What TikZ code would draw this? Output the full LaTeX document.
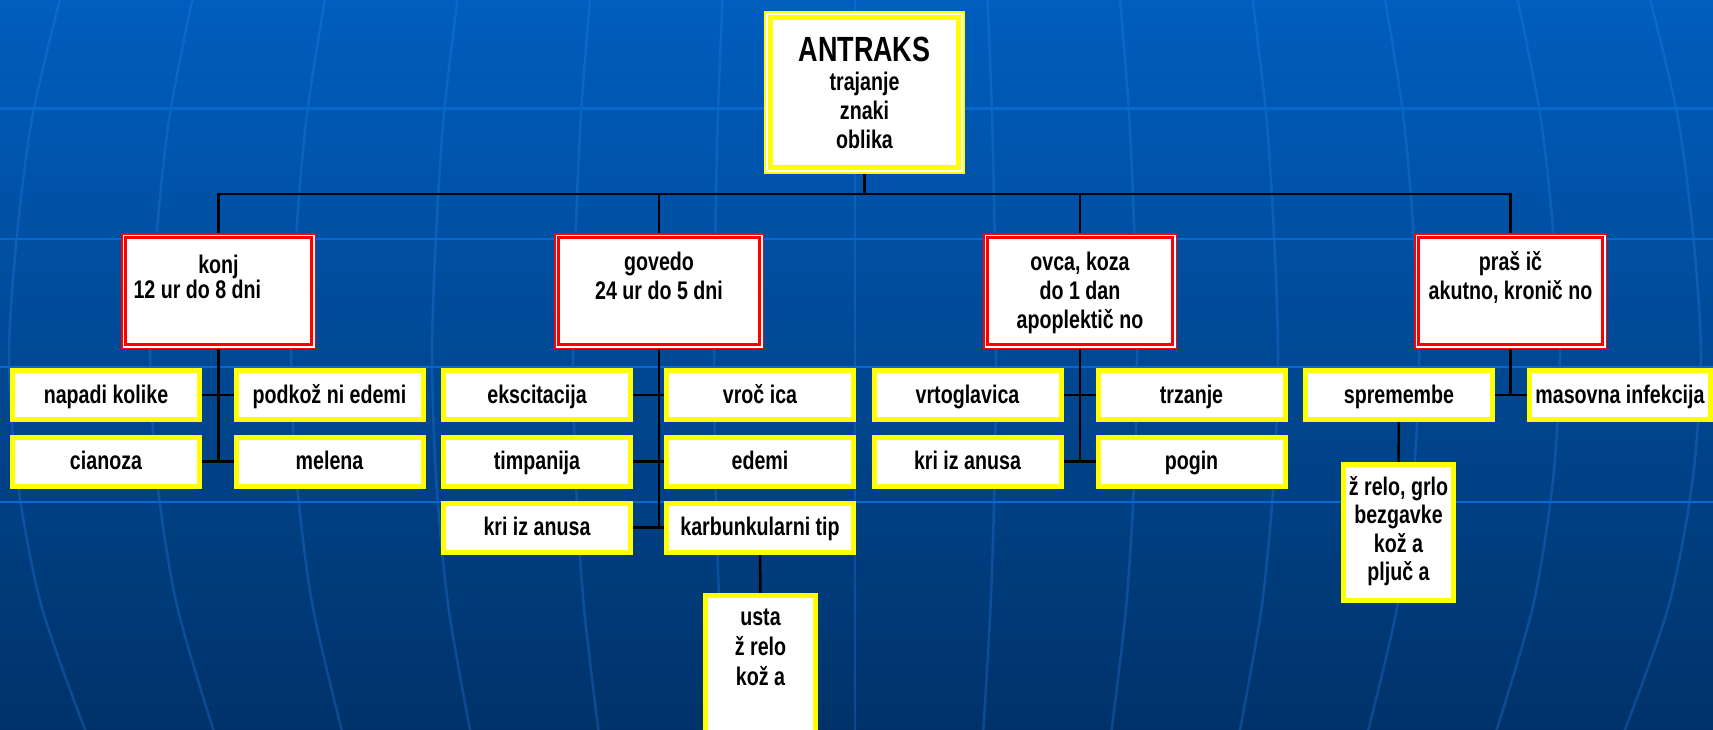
\documentclass[tikz,border=0pt]{standalone}
\usepackage{fontspec}
\setmainfont{Liberation Sans}[FakeStretch=0.77]
\definecolor{bgtop}{RGB}{0,94,190}
\definecolor{bgbot}{RGB}{0,50,105}
\definecolor{gridc}{RGB}{8,104,210}
\definecolor{meridc}{RGB}{40,130,235}
\definecolor{yel}{RGB}{255,255,0}
\definecolor{redc}{RGB}{255,0,0}
\pgfdeclarelayer{bglayer}
\pgfdeclarelayer{linelayer}
\pgfsetlayers{bglayer,linelayer,main}
\tikzset{
  txt/.style={font=\fontsize{25.5}{29}\selectfont\bfseries, align=center, text=black, inner sep=0pt, outer sep=0pt, fill=white},
  topbox/.style={txt, draw=yel, line width=2pt, minimum width=199pt, text height=137pt, text depth=24pt},
  animal/.style={txt, draw=redc, line width=1.5pt, text height=65.25pt, text depth=49.25pt},
  sign/.style={txt, draw=yel, line width=5pt, minimum width=187pt, text height=32.5pt, text depth=16.5pt},
  tallsign/.style={txt, draw=yel, line width=5pt, minimum width=110pt},
  conn/.style={draw=black, line width=2.5pt},
  redin/.style={draw=redc, line width=3.3pt},
  yelin/.style={draw=yel, line width=5pt},
  gridline/.style={draw=gridc, line width=2.5pt},
  meridian/.style={draw=meridc, line width=2.5pt, opacity=0.3},
}
\begin{document}
\begin{tikzpicture}[x=1pt,y=-1pt]
\useasboundingbox (0,0) rectangle (1713,730);
\begin{pgfonlayer}{bglayer}
  \shade[top color=bgtop, bottom color=bgbot] (0,0) rectangle (1713,730);
  \foreach \xe in {9,150,291,432,573,714,855,996,1137,1278,1419,1560,1701}
    \draw[meridian] plot[smooth] coordinates {
      ({855+(\xe-855)*0.94},0) ({855+(\xe-855)*0.972},115) ({855+(\xe-855)*0.99},230)
      ({855+(\xe-855)*1.0},355) ({855+(\xe-855)*0.99},480) ({855+(\xe-855)*0.962},605)
      ({855+(\xe-855)*0.91},730)};
  \foreach \yy in {108.5,239,367,502}
    \draw[gridline] (0,\yy) -- (1713,\yy);
\end{pgfonlayer}

% top
\node[topbox] (top) at (864.5,92.5) {{\fontsize{35}{29}\selectfont ANTRAKS}\\trajanje\\znaki\\oblika};
\draw[yelin] ([shift={(5.5,5.5)}]top.north west) rectangle ([shift={(-5.5,-5.5)}]top.south east);

% level 2
\node[animal, minimum width=193.5pt, text height=64.25pt, text depth=50.25pt] (konj) at (218.5,291) {konj\\[-4.5pt]\makebox[170pt][l]{12 ur do 8 dni}};
\node[animal, minimum width=208.5pt] (govedo) at (659,291) {govedo\\24 ur do 5 dni};
\node[animal, minimum width=192.5pt, text height=94.25pt, text depth=20.25pt] (ovca) at (1080,291) {ovca, koza\\do 1 dan\\apoplektič no};
\node[animal, minimum width=191.5pt] (prasic) at (1510.5,291) {praš ič\\akutno, kronič no};
\foreach \n in {konj,govedo,ovca,prasic}
  \draw[redin] ([shift={(3.6,3.6)}]\n.north west) rectangle ([shift={(-3.6,-3.6)}]\n.south east);

% level 3
\node[sign] (napadi) at (106,395) {napadi kolike};
\node[sign] (podkoz) at (329.5,395) {podkož ni edemi};
\node[sign] (cianoza) at (106,461.5) {cianoza};
\node[sign] (melena) at (329.5,461.5) {melena};
\node[sign] (eksc) at (537,395) {ekscitacija};
\node[sign] (vrocica) at (760,395) {vroč ica};
\node[sign] (timp) at (537,461.5) {timpanija};
\node[sign] (edemi) at (760,461.5) {edemi};
\node[sign] (krig) at (537,527.5) {kri iz anusa};
\node[sign] (karb) at (760,527.5) {karbunkularni tip};
\node[sign] (vrto) at (967.5,395) {vrtoglavica};
\node[sign] (trzanje) at (1191.5,395) {trzanje};
\node[sign] (krio) at (967.5,461.5) {kri iz anusa};
\node[sign] (pogin) at (1191.5,461.5) {pogin};
\node[sign] (sprem) at (1399,395) {spremembe};
\node[sign, minimum width=181pt] (masovna) at (1620,395) {masovna infekcija};

% level 4
\node[tallsign, anchor=north, text height=89.5pt, text depth=70pt, font=\fontsize{25.5}{30}\selectfont\bfseries] (usta) at (760.5,595.5) {usta\\ž relo\\kož a};
\node[tallsign, text height=116pt, text depth=20pt, font=\fontsize{25.5}{28.5}\selectfont\bfseries] (zrelo) at (1398.5,532.5) {ž relo, grlo\\bezgavke\\kož a\\pljuč a};

% connectors
\begin{pgfonlayer}{linelayer}
  \coordinate (bus) at (864.5,194);
  \draw[conn] (top.south) -- (top.south |- bus);
  \draw[conn] (konj.north) -- (konj.north |- bus) -- (prasic.north |- bus) -- (prasic.north);
  \draw[conn] (govedo.north) -- (govedo.north |- bus);
  \draw[conn] (ovca.north) -- (ovca.north |- bus);
  \draw[conn] (konj.south) -- (konj.south |- cianoza.east);
  \draw[conn] (napadi.east) -- (podkoz.west);
  \draw[conn] (cianoza.east) -- (melena.west);
  \draw[conn] (govedo.south) -- (govedo.south |- krig.east);
  \draw[conn] (eksc.east) -- (vrocica.west);
  \draw[conn] (timp.east) -- (edemi.west);
  \draw[conn] (krig.east) -- (karb.west);
  \draw[conn] (karb.south) -- (usta.north);
  \draw[conn] (ovca.south) -- (ovca.south |- krio.east);
  \draw[conn] (vrto.east) -- (trzanje.west);
  \draw[conn] (krio.east) -- (pogin.west);
  \draw[conn] (prasic.south) -- (prasic.south |- sprem.east);
  \draw[conn] (sprem.east) -- (masovna.west);
  \draw[conn] (sprem.south) -- (zrelo.north);
\end{pgfonlayer}
\end{tikzpicture}
\end{document}
